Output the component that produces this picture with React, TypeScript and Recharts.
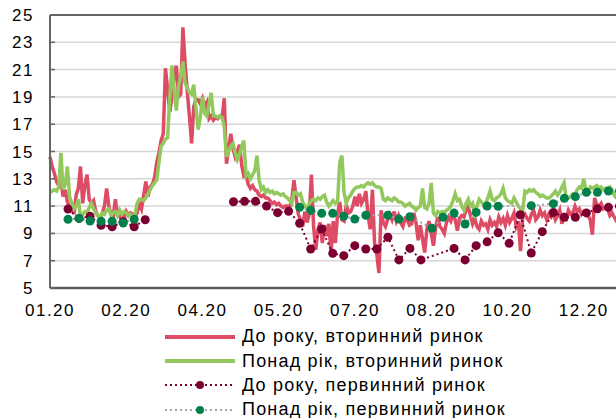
import React from "react";
import { LineChart, Line, XAxis, YAxis, CartesianGrid, Legend, ReferenceLine } from "recharts";

// x axis runs in trading days from the start of 2020
const monthLabels = ["01.20", "02.20", "04.20", "05.20", "07.20", "08.20", "10.20", "12.20"];
const LABEL_STEP = 35;
const GRID_STEP = 22;
const DAYS = 269;
const yTicks = [5, 7, 9, 11, 13, 15, 17, 19, 21, 23, 25];

// daily yields, secondary market
const shortSecondary = [
  14.6, 13.9, 13.4, 12.8, 12.5, 12.9, 11.7, 12.2, 11.3, 10.9,
  11.0, 10.4, 11.8, 12.3, 13.9, 11.2, 12.5, 13.3, 11.5, 11.2,
  11.4, 10.6, 10.3, 10.1, 10.5, 11.0, 12.3, 11.0, 10.4, 10.2,
  11.5, 10.3, 10.2, 10.4, 10.1, 10.6, 10.3, 10.5, 10.4, 10.2,
  10.5, 11.2, 10.8, 11.8, 12.8, 11.7, 12.4, 12.6, 13.1, 14.2,
  14.9, 15.8, 16.3, 21.1, 19.5, 17.9, 19.0, 20.5, 21.3, 19.0,
  19.2, 24.1, 21.5, 19.4, 17.6, 15.6, 18.3, 18.8, 18.8, 18.5,
  18.9, 18.3, 18.6, 17.4, 17.6, 17.3, 17.5, 17.4, 17.6, 17.5,
  18.9, 14.1, 15.2, 16.3, 15.2, 14.6, 15.0, 15.5, 14.0, 13.2,
  13.3, 12.6, 12.3, 12.5, 12.2, 12.1, 11.8, 11.7, 11.8, 11.6,
  11.6, 11.4, 11.2, 11.3, 11.1, 11.2, 11.0, 10.9, 11.0, 11.0,
  10.9, 11.5, 12.9, 11.6, 10.4, 10.0, 9.5, 10.6, 9.8, 10.4,
  13.3, 9.5, 7.8, 9.3, 9.8, 8.3, 9.6, 8.8, 9.7, 7.6,
  9.9, 8.3, 10.4, 11.3, 10.0, 9.9, 11.1, 10.5, 10.6, 11.0,
  11.7, 11.0, 11.9, 11.2, 11.5, 12.1, 10.3, 9.3, 12.2, 8.3,
  7.5, 6.1, 10.7, 9.8, 9.5, 10.0, 10.4, 10.0, 10.6, 9.9,
  10.3, 9.8, 9.5, 10.1, 10.0, 9.6, 9.7, 10.5, 9.8, 8.5,
  9.6, 8.6, 7.6, 9.3, 9.9, 9.0, 8.1, 9.4, 10.2, 9.5,
  9.3, 9.0, 9.8, 10.2, 9.9, 10.4, 10.0, 9.2, 10.1, 10.3,
  10.2, 10.7, 11.0, 10.3, 9.7, 10.1, 9.5, 9.3, 9.9, 9.6,
  9.7, 9.3, 10.0, 9.6, 9.8, 9.5, 10.2, 9.8, 10.1, 9.6,
  10.3, 9.8, 10.1, 10.5, 9.5, 9.9, 7.7, 10.2, 10.4, 10.1,
  9.9, 10.4, 10.7, 10.0, 10.2, 10.7, 10.3, 10.5, 10.0, 10.4,
  10.2, 10.5, 10.0, 10.3, 10.7, 9.7, 10.3, 10.1, 10.7, 10.4,
  10.5, 11.0, 10.6, 10.8, 10.4, 10.6, 10.5, 10.3, 10.0, 8.9,
  11.6, 11.1, 11.0, 11.2, 10.8, 10.9, 10.8, 10.3, 10.5, 10.2, 9.9, 9.9,
];

const longSecondary = [
  12.0, 12.1, 12.2, 12.1, 12.4, 14.9, 12.2, 12.6, 13.9, 11.7,
  11.2, 10.8, 11.0, 11.5, 10.2, 10.4, 10.6, 10.5, 10.9, 11.2,
  10.8, 10.5, 10.3, 10.2, 10.5, 10.4, 10.7, 10.8, 10.3, 10.5,
  10.6, 10.3, 10.7, 10.4, 10.6, 10.5, 10.3, 10.4, 10.2, 10.4,
  11.2, 11.5, 11.5, 11.4, 11.6, 11.9, 12.2, 12.5, 12.7, 12.9,
  14.2, 15.4, 15.6, 15.9, 16.0, 19.0, 21.3, 19.5, 18.0, 19.8,
  20.5, 21.6, 20.0, 19.7, 19.3, 19.2, 19.9, 18.2, 16.6, 17.5,
  19.0, 17.8, 17.6, 18.5, 19.3, 17.6, 17.6, 17.5, 17.6, 17.5,
  16.8, 14.6, 15.0, 15.4, 15.6, 14.9, 14.4, 14.8, 15.4, 15.8,
  13.2, 13.4, 13.0, 13.3, 13.6, 14.7, 12.9, 12.2, 12.4, 12.0,
  12.2, 12.0, 12.1, 11.9, 12.0, 11.9, 11.8, 11.9, 11.7, 11.6,
  11.4, 11.2, 12.0, 12.0, 11.8, 11.9, 11.3, 11.0, 10.9, 11.2,
  11.4, 11.5, 11.4, 11.6, 11.5, 11.7, 11.8, 11.3, 11.0, 11.2,
  11.4, 11.2, 11.3, 14.2, 14.7, 12.0, 11.2, 11.6, 11.8, 12.1,
  12.3, 12.4, 12.4, 12.5, 12.4, 12.6, 12.7, 12.6, 12.7, 12.5,
  12.4, 12.4, 12.3, 11.5, 11.4, 11.6, 11.5, 11.4, 11.6, 11.5,
  11.3, 11.3, 11.2, 11.0, 11.1, 11.2, 11.0, 10.9, 10.7, 10.9,
  11.0, 12.3, 10.9, 10.8, 11.2, 12.7, 10.5, 10.3, 10.6, 10.5,
  10.6, 10.5, 10.7, 10.8, 11.0, 11.4, 11.9, 11.4, 11.5, 11.0,
  10.7, 11.2, 11.5, 11.0, 11.2, 10.5, 11.0, 11.5, 11.3, 11.1,
  11.2, 11.6, 12.1, 11.5, 11.4, 11.6, 11.7, 11.9, 12.3, 11.6,
  11.4, 11.3, 11.2, 11.6, 11.3, 11.0, 10.8, 10.7, 12.1, 12.0,
  12.2, 12.1, 12.2, 12.0, 11.9, 11.7, 11.8, 11.7, 11.6, 11.6,
  11.7, 11.9, 12.1, 11.8, 12.0, 12.4, 12.7, 11.5, 11.6, 11.7,
  11.9, 11.8, 12.2, 12.4, 12.3, 13.0, 12.2, 12.1, 12.4, 12.3,
  12.4, 12.5, 12.3, 12.4, 12.2, 12.3, 12.3, 12.4, 12.2, 11.8, 11.6, 11.5,
];

// weekly auction yields, primary market (null = no auction that week)
const shortPrimary = [
  null, 10.79, 10.1, 10.25, 9.6, 9.49, 9.86, 9.49, 10.0,
  null, null, null, null, null, null, null,
  11.32, 11.35, 11.35, 11.0, 10.52, 10.62, 9.74, 7.86, 9.32, 7.54,
  7.37, 8.1, 7.86, 7.86, 8.72, 7.06, 7.9, 7.06, null, null,
  7.9, 7.06, 8.1, 8.38, 9.05, 8.27, 10.37, 7.56, 9.13, 10.54,
  10.18, 10.18, 10.5, 10.8, 10.91, 11.0,
];

const longPrimary = [
  null, 10.03, 10.1, 9.9, 9.89, 9.89, 9.76, 10.03,
  null, null, null, null, null, null, null, null, null, null, null, null, null, null,
  10.91, 10.69, 10.47, 10.47, 10.25, 10.05, 10.33, null, 10.33, 10.05,
  10.22, null, 9.37, 10.18, 10.49, 9.69, 10.54, 11.01, 10.99, null,
  null, 11.03, null, 11.18, 11.57, 11.69, 12.01, 12.01, 12.1, 12.1,
];

// first weekly observation and week length, in trading days
const WEEK_START = 3.21;
const WEEK_STEP = 5.063;

const daily = (vals: number[]) => vals.map((v, i) => ({ day: i, v }));

// short runs of missing weeks are bridged, long pauses break the line
const weekly = (vals: (number | null)[]) => {
  const out: { day: number; v: number | null }[] = [];
  let gap = 0;
  vals.forEach((v, k) => {
    if (v == null) {
      gap++;
      return;
    }
    if (gap >= 4 && out.length) out.push({ day: WEEK_START + (k - 1) * WEEK_STEP, v: null });
    gap = 0;
    out.push({ day: WEEK_START + k * WEEK_STEP, v });
  });
  return out;
};

const series = [
  { name: "До року, вторинний ринок", data: daily(shortSecondary), line: "#dd4b64", width: 3.5, dash: undefined, dot: undefined },
  { name: "Понад рік, вторинний ринок", data: daily(longSecondary), line: "#92c85c", width: 3.5, dash: undefined, dot: undefined },
  { name: "До року, первинний ринок", data: weekly(shortPrimary), line: "#7b0031", width: 2, dash: "2 3", dot: "#7b0031" },
  { name: "Понад рік, первинний ринок", data: weekly(longPrimary), line: "#a3a8ad", width: 2, dash: "2 3", dot: "#00814b" },
];

const labelTicks = monthLabels.map((_, i) => i * LABEL_STEP);
const gridTicks: number[] = [];
for (let d = 0; d <= DAYS; d += GRID_STEP) gridTicks.push(d);

const renderLegend = (props: any) => {
  // keep the series order instead of the alphabetical one
  const items = [...props.payload].sort(
    (a: any, b: any) => series.findIndex((s) => s.name === a.value) - series.findIndex((s) => s.name === b.value)
  );
  return (
    <div style={{ fontSize: 18, letterSpacing: 1.2, color: "#000" }}>
      {items.map((entry: any) => {
        const s = series.find((x) => x.name === entry.value)!;
        return (
          <div key={entry.value} style={{ display: "flex", alignItems: "center", height: 24.4, whiteSpace: "nowrap" }}>
            <svg width={77} height={12} style={{ flex: "none" }}>
              <line x1={0} x2={70} y1={6} y2={6} stroke={s.line} strokeWidth={s.dash ? 2 : 4} strokeDasharray={s.dash} />
              {s.dot && <circle cx={35} cy={6} r={4} fill={s.dot} />}
            </svg>
            <span>{entry.value}</span>
          </div>
        );
      })}
    </div>
  );
};

const App: React.FC = () => {
  return (
    <div
      style={{
        position: "absolute",
        left: 0,
        top: 0,
        width: 616,
        height: 418,
        overflow: "hidden",
        background: "#fff",
        fontFamily: "'Liberation Sans', Arial, sans-serif",
      }}
    >
      <LineChart width={636} height={418} margin={{ top: 15, right: 0, bottom: 100, left: 0 }}>
        <CartesianGrid xAxisId="lab" vertical={false} stroke="#d6d6d6" strokeWidth={1.5} />
        <CartesianGrid xAxisId="grid" horizontal={false} stroke="#c3c8cd" strokeWidth={1.5} />
        <XAxis
          xAxisId="grid"
          type="number"
          dataKey="day"
          domain={[0, DAYS]}
          ticks={gridTicks}
          interval={0}
          height={0}
          tick={false}
          axisLine={false}
          tickSize={-5}
          tickLine={{ stroke: "#777", strokeWidth: 1.5 }}
        />
        <XAxis
          xAxisId="lab"
          type="number"
          dataKey="day"
          domain={[0, DAYS]}
          ticks={labelTicks}
          interval={0}
          height={30}
          tickFormatter={(v: number) => monthLabels[Math.round(v / LABEL_STEP)]}
          tickLine={false}
          tickMargin={10}
          axisLine={{ stroke: "#595959", strokeWidth: 2.5 }}
          tick={{ fill: "#000", fontSize: 17, letterSpacing: 1.5 }}
        />
        <YAxis
          type="number"
          domain={[5, 25]}
          ticks={yTicks}
          interval={0}
          width={50}
          tickSize={-5}
          tickMargin={21}
          tickLine={{ stroke: "#666", strokeWidth: 1.5 }}
          axisLine={{ stroke: "#666", strokeWidth: 2 }}
          tick={{ fill: "#000", fontSize: 17, letterSpacing: 1.5 }}
        />
        <ReferenceLine xAxisId="lab" y={25} stroke="#666" strokeWidth={2} />
        {series.map((s) => (
          <Line
            key={s.name}
            xAxisId="lab"
            data={s.data}
            dataKey="v"
            name={s.name}
            type="linear"
            stroke={s.line}
            strokeWidth={s.width}
            strokeDasharray={s.dash}
            dot={s.dot ? { r: 4.5, fill: s.dot, stroke: "none" } : false}
            activeDot={false}
            isAnimationActive={false}
          />
        ))}
        <Legend
          layout="vertical"
          verticalAlign="middle"
          align="center"
          content={renderLegend}
          wrapperStyle={{ left: 165, top: 324.5, width: "auto", height: "auto" }}
        />
      </LineChart>
    </div>
  );
};

export default App;
